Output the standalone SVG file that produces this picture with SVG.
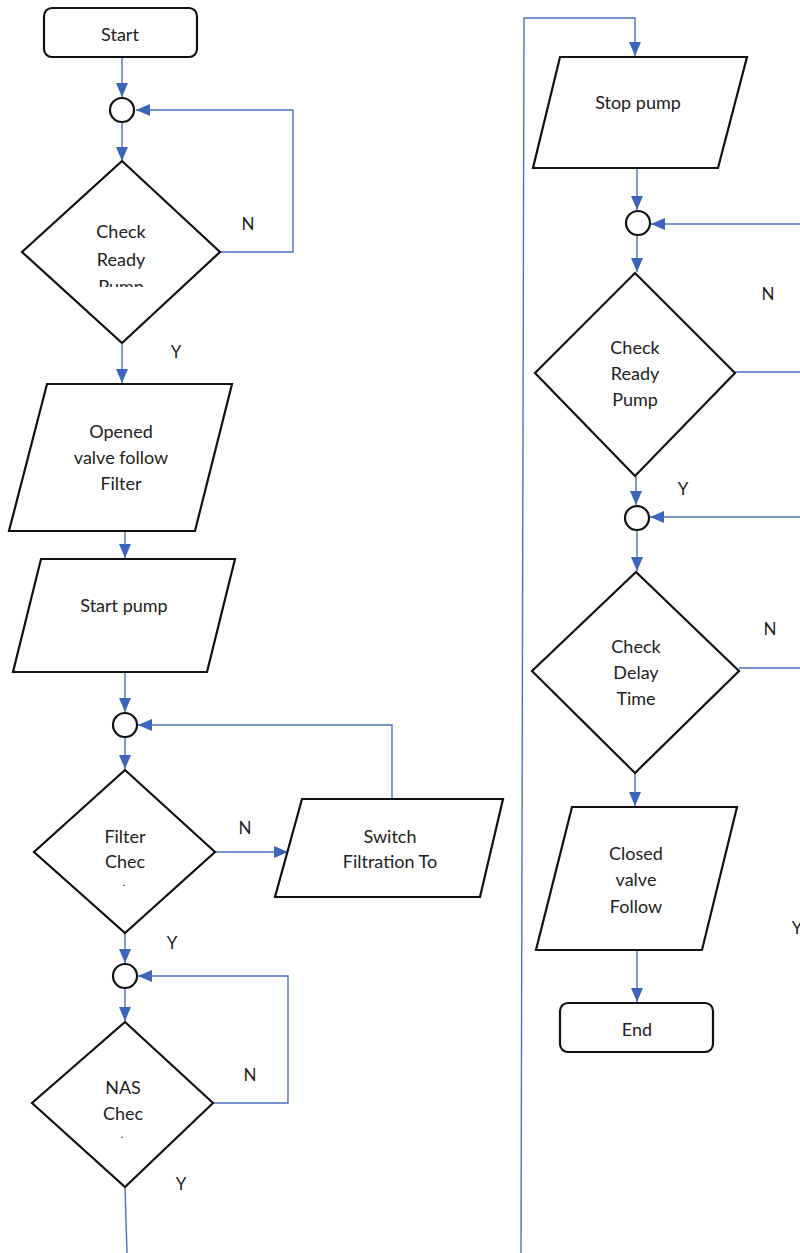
<svg xmlns="http://www.w3.org/2000/svg" width="800" height="1253" viewBox="0 0 800 1253">
<style>
  .shape{fill:#fff;stroke:#111;stroke-width:2.2}
  .conn{fill:none;stroke:#4a72c0;stroke-width:1.4}
  .t{font-family:Lato,"Open Sans","Liberation Sans",sans-serif;font-size:18px;fill:#222;text-anchor:middle}
  .dot{font-family:Lato,"Open Sans","Liberation Sans",sans-serif;font-size:11px;fill:#222;text-anchor:middle}
  .lbl{font-family:Lato,"Open Sans","Liberation Sans",sans-serif;font-size:17px;fill:#222;text-anchor:middle}
</style>
<defs>
  <marker id="ah" viewBox="0 0 14 12" refX="14" refY="6" markerWidth="14" markerHeight="12" markerUnits="userSpaceOnUse" orient="auto">
    <path d="M0,0 L14,6 L0,12 Z" fill="#3b64bb"/>
  </marker>
  <clipPath id="clipPump"><rect x="60" y="270" width="130" height="17"/></clipPath>
</defs>
<rect width="800" height="1253" fill="#fff"/>

<g id="connectors">
  <path class="conn" d="M122,57 V97" marker-end="url(#ah)"/>
  <path class="conn" d="M122,123 V161" marker-end="url(#ah)"/>
  <path class="conn" d="M220,252 H293 V110 H136" marker-end="url(#ah)"/>
  <path class="conn" d="M122,343 V383" marker-end="url(#ah)"/>
  <path class="conn" d="M125,531 V558" marker-end="url(#ah)"/>
  <path class="conn" d="M125,672 V712" marker-end="url(#ah)"/>
  <path class="conn" d="M125,737 V769" marker-end="url(#ah)"/>
  <path class="conn" d="M215,852 H288" marker-end="url(#ah)"/>
  <path class="conn" d="M392,798 V725 H138" marker-end="url(#ah)"/>
  <path class="conn" d="M125,933 V963" marker-end="url(#ah)"/>
  <path class="conn" d="M125,988 V1021" marker-end="url(#ah)"/>
  <path class="conn" d="M213,1103 H288 V976 H138" marker-end="url(#ah)"/>
  <path class="conn" d="M125,1187 L127,1253"/>
  <path class="conn" d="M521,1253 L524,18 H635 V56" marker-end="url(#ah)"/>
  <path class="conn" d="M637,168 V210" marker-end="url(#ah)"/>
  <path class="conn" d="M800,224 H651" marker-end="url(#ah)"/>
  <path class="conn" d="M637,235 V272" marker-end="url(#ah)"/>
  <path class="conn" d="M735,372 H800"/>
  <path class="conn" d="M636,476 V505" marker-end="url(#ah)"/>
  <path class="conn" d="M800,517 H650" marker-end="url(#ah)"/>
  <path class="conn" d="M637,530 V571" marker-end="url(#ah)"/>
  <path class="conn" d="M739,668 H800"/>
  <path class="conn" d="M635,773 V806" marker-end="url(#ah)"/>
  <path class="conn" d="M637,950 V1002" marker-end="url(#ah)"/>
</g>

<g id="labels">
  <text class="lbl" x="248" y="230">N</text>
  <text class="lbl" x="176" y="358">Y</text>
  <text class="lbl" x="245" y="834">N</text>
  <text class="lbl" x="172" y="949">Y</text>
  <text class="lbl" x="250" y="1081">N</text>
  <text class="lbl" x="181" y="1190">Y</text>
  <text class="lbl" x="768" y="300">N</text>
  <text class="lbl" x="683" y="495">Y</text>
  <text class="lbl" x="770" y="635">N</text>
  <text class="lbl" x="797" y="934">Y</text>
</g>

<g id="start">
  <rect class="shape" x="44" y="8" width="153" height="49" rx="8"/>
  <text class="t" x="120" y="41">Start</text>
</g>
<g id="merge1"><circle class="shape" cx="122" cy="110" r="12"/></g>
<g id="check-ready-pump-1">
  <path class="shape" d="M122,161 L220,252 L122,343 L22,252 Z"/>
  <text class="t" x="121" y="238">Check</text>
  <text class="t" x="121" y="266">Ready</text>
  <text class="t" x="121" y="293" clip-path="url(#clipPump)">Pump</text>
</g>
<g id="opened-valve">
  <path class="shape" d="M47,384 L232,384 L195,531 L9,531 Z"/>
  <text class="t" x="121" y="438">Opened</text>
  <text class="t" x="121" y="464">valve follow</text>
  <text class="t" x="121" y="490">Filter</text>
</g>
<g id="start-pump">
  <path class="shape" d="M41,559 L235,559 L207,672 L13,672 Z"/>
  <text class="t" x="124" y="612">Start pump</text>
</g>
<g id="merge2"><circle class="shape" cx="125" cy="725" r="12"/></g>
<g id="filter-check">
  <path class="shape" d="M125,770 L215,852 L125,933 L34,852 Z"/>
  <text class="t" x="125" y="843">Filter</text>
  <text class="t" x="125" y="868">Chec</text>
  <text class="dot" x="124" y="886">.</text>
</g>
<g id="switch-filtration">
  <path class="shape" d="M302,799 L503,799 L480,897 L275,897 Z"/>
  <text class="t" x="390" y="843">Switch</text>
  <text class="t" x="390" y="868">Filtration To</text>
</g>
<g id="merge3"><circle class="shape" cx="125" cy="976" r="12"/></g>
<g id="nas-check">
  <path class="shape" d="M125,1022 L213,1103 L125,1187 L32,1103 Z"/>
  <text class="t" x="123" y="1094">NAS</text>
  <text class="t" x="123" y="1120">Chec</text>
  <text class="dot" x="122" y="1138">.</text>
</g>

<g id="stop-pump">
  <path class="shape" d="M560,57 L747,57 L718,168 L533,168 Z"/>
  <text class="t" x="638" y="109">Stop pump</text>
</g>
<g id="merge4"><circle class="shape" cx="638" cy="223" r="12"/></g>
<g id="check-ready-pump-2">
  <path class="shape" d="M635,273 L735,373 L635,476 L535,373 Z"/>
  <text class="t" x="635" y="354">Check</text>
  <text class="t" x="635" y="380">Ready</text>
  <text class="t" x="635" y="406">Pump</text>
</g>
<g id="merge5"><circle class="shape" cx="637" cy="518" r="12"/></g>
<g id="check-delay">
  <path class="shape" d="M636,572 L739,671 L635,773 L532,671 Z"/>
  <text class="t" x="636" y="653">Check</text>
  <text class="t" x="636" y="679">Delay</text>
  <text class="t" x="636" y="705">Time</text>
</g>
<g id="closed-valve">
  <path class="shape" d="M572,807 L737,807 L702,950 L536,950 Z"/>
  <text class="t" x="636" y="860">Closed</text>
  <text class="t" x="636" y="886">valve</text>
  <text class="t" x="636" y="913">Follow</text>
</g>
<g id="end">
  <rect class="shape" x="560" y="1003" width="153" height="49" rx="8"/>
  <text class="t" x="637" y="1036">End</text>
</g>
</svg>
